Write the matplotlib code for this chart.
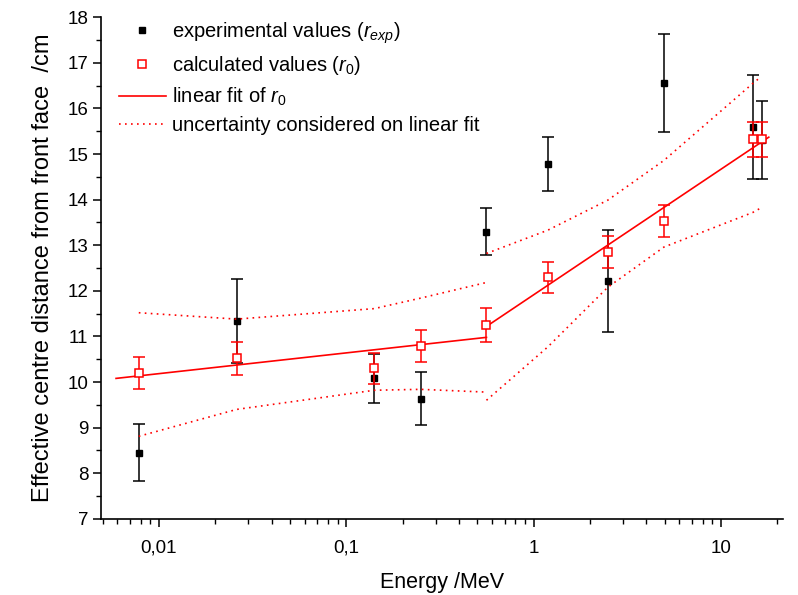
import matplotlib
matplotlib.use("Agg")
import matplotlib.pyplot as plt
from matplotlib.lines import Line2D
from matplotlib.ticker import FixedLocator, FixedFormatter, MultipleLocator, LogLocator, NullFormatter

plt.rcParams['font.family'] = ['Liberation Sans', 'DejaVu Sans']
plt.rcParams['mathtext.fontset'] = 'custom'
plt.rcParams['mathtext.rm'] = 'Liberation Sans'
plt.rcParams['mathtext.it'] = 'Liberation Sans:italic'

# energies of the measurements /MeV
energy = [0.0078, 0.026, 0.141, 0.249, 0.555, 1.19, 2.49, 4.96, 14.8, 16.6]

# experimental values r_exp and their uncertainties /cm
r_exp = [8.45, 11.33, 10.08, 9.63, 13.30, 14.78, 12.21, 16.56, 15.59, 15.31]
r_exp_err = [0.62, 0.92, 0.53, 0.58, 0.52, 0.59, 1.12, 1.07, 1.14, 0.86]

# calculated values r_0 and their uncertainties /cm
r_calc = [10.19, 10.52, 10.30, 10.79, 11.25, 12.30, 12.85, 13.53, 15.32, 15.32]
r_calc_err = [0.35, 0.36, 0.34, 0.36, 0.37, 0.34, 0.35, 0.35, 0.38, 0.38]

# linear fit of r_0 (two parts)
fit_low_E = [0.0059, 0.56]
fit_low_r = [10.08, 10.98]
fit_high_E = [0.56, 18.0]
fit_high_r = [11.22, 15.37]

# uncertainty band on the fit
unc_low_E = [0.0078, 0.026, 0.141, 0.249, 0.555]
unc_low_upper = [11.52, 11.38, 11.61, 11.84, 12.18]
unc_low_lower = [8.81, 9.40, 9.82, 9.84, 9.78]
unc_high_E = [0.56, 1.19, 2.49, 4.96, 14.8, 16.2]
unc_high_upper = [12.82, 13.33, 13.99, 14.86, 16.55, 16.68]
unc_high_lower = [9.60, 10.77, 12.08, 12.96, 13.72, 13.81]

xticks = [0.01, 0.1, 1, 10]
xtick_labels = ['0,01', '0,1', '1', '10']

red = '#ff0000'
dots = (0, (1, 2.6))

fig = plt.figure(figsize=(7.98, 5.95), dpi=100)
ax = fig.add_axes([0.1265, 0.128, 0.855, 0.843])

# experimental
ax.errorbar(energy, r_exp, yerr=r_exp_err, fmt='s', color='black', ms=5,
            ecolor='black', elinewidth=1.1, capsize=4, capthick=1.1, zorder=2)

# fit and uncertainty
ax.plot(fit_low_E, fit_low_r, color=red, lw=1.2, zorder=3)
ax.plot(fit_high_E, fit_high_r, color=red, lw=1.2, zorder=3)
for xs, ys in [(unc_low_E, unc_low_upper), (unc_low_E, unc_low_lower),
               (unc_high_E, unc_high_upper), (unc_high_E, unc_high_lower)]:
    ax.plot(xs, ys, color=red, lw=1.2, ls=dots, zorder=3)

# calculated
ax.errorbar(energy, r_calc, yerr=r_calc_err, fmt='s', color=red, ms=5.5,
            mfc='white', mec=red, mew=1.1, ecolor=red, elinewidth=1.1,
            capsize=4, capthick=1.1, zorder=4)

ax.set_xscale('log')
ax.set_xlim(0.0049, 21.5)
ax.set_ylim(7, 18)

ax.xaxis.set_major_locator(FixedLocator(xticks))
ax.xaxis.set_major_formatter(FixedFormatter(xtick_labels))
ax.xaxis.set_minor_locator(LogLocator(base=10, subs=range(2, 10)))
ax.xaxis.set_minor_formatter(NullFormatter())
ax.yaxis.set_major_locator(MultipleLocator(1))
ax.yaxis.set_minor_locator(MultipleLocator(0.5))

for s in ['top', 'right']:
    ax.spines[s].set_visible(False)
for s in ['left', 'bottom']:
    ax.spines[s].set_linewidth(1.2)

ax.tick_params(which='major', direction='out', length=6, width=1.1, labelsize=13.5)
ax.tick_params(which='minor', direction='out', length=3.5, width=1.0)
ax.tick_params(axis='x', which='major', pad=9)
ax.tick_params(axis='y', which='major', pad=3)

ax.set_xlabel('Energy /MeV', fontsize=15.5, labelpad=11)
ax.set_ylabel('Effective centre distance from front face  /cm', fontsize=17, labelpad=10)

handles = [
    Line2D([], [], marker='s', ls='none', color='black', ms=5),
    Line2D([], [], marker='s', ls='none', mfc='white', mec=red, mew=1.1, ms=5.5),
    Line2D([], [], color=red, lw=1.2),
    Line2D([], [], color=red, lw=1.2, ls=dots),
]
labels = [
    'experimental values ($r_{exp}$)',
    r'calculated values ($r_{\mathit{0}}$)',
    r'linear fit of $r_{\mathit{0}}$',
    'uncertainty considered on linear fit',
]
ax.legend(handles, labels, loc='upper left', bbox_to_anchor=(0.015, 1.01),
          frameon=False, fontsize=14.5, handlelength=2.3, handletextpad=0.3,
          labelspacing=0.42, borderaxespad=0)

fig.savefig('out.png', dpi=100)
